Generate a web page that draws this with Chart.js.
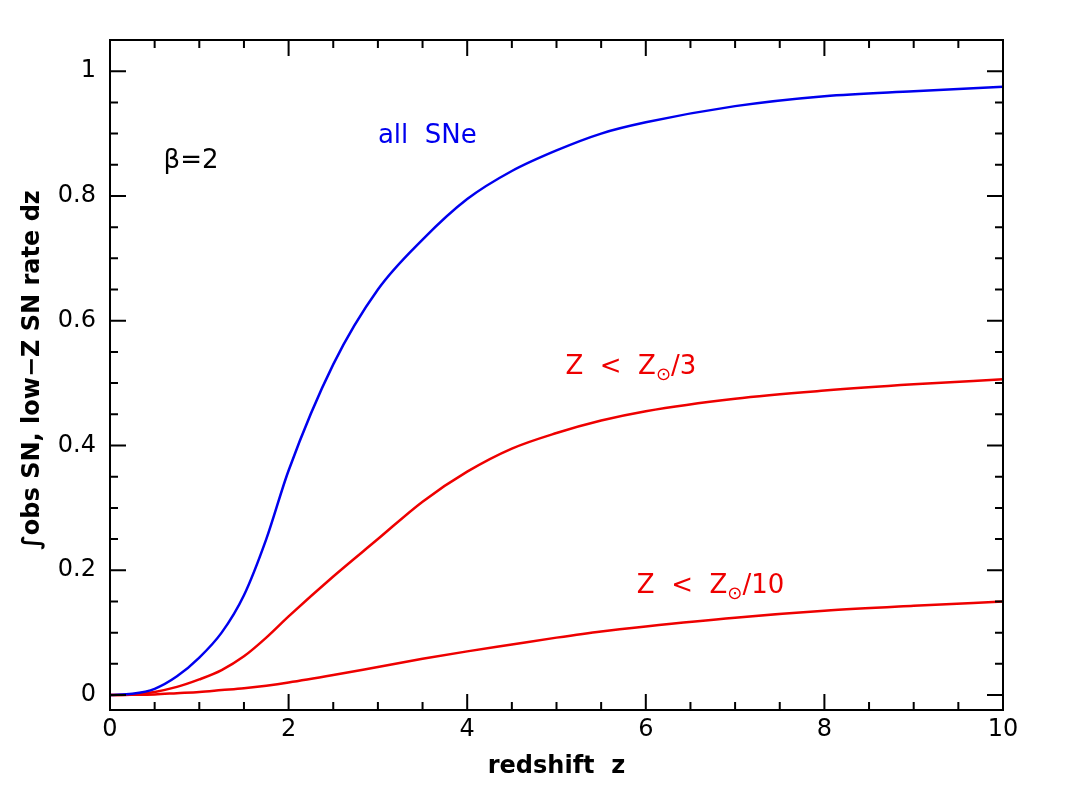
<!DOCTYPE html>
<html><head><meta charset="utf-8">
<script src="https://cdn.jsdelivr.net/npm/chart.js@4"></script>
<style>body{margin:0;background:#fff}#w{width:1067px;height:797px}</style>
</head><body><div id="w"><canvas id="c"></canvas></div>
<script>
const zGrid=[0,0.25,0.5,0.75,1,1.25,1.5,1.75,2,2.5,3,3.5,4,4.5,5,5.5,6,7,8,9,10];
const allSNe=[0,0.002,0.01,0.03,0.06,0.1,0.16,0.25,0.36,0.53,0.65,0.73,0.795,0.84,0.873,0.9,0.918,0.944,0.96,0.968,0.975];
const third=[0,0.001,0.005,0.013,0.025,0.04,0.062,0.092,0.126,0.19,0.25,0.31,0.358,0.395,0.42,0.44,0.455,0.475,0.488,0.498,0.506];
const tenth=[0,0.0003,0.001,0.003,0.005,0.008,0.011,0.015,0.02,0.032,0.045,0.058,0.07,0.081,0.092,0.102,0.11,0.124,0.135,0.143,0.15];
const xTicks=[0,2,4,6,8,10];
const yTicks=[0,0.2,0.4,0.6,0.8,1];
const F='"DejaVu Sans"';
const pts=(xs,ys)=>xs.map((x,i)=>({x,y:ys[i]}));
const deco={id:'deco',afterDraw(ch){
 const c=ch.ctx,X=ch.scales.x,Y=ch.scales.y,a=ch.chartArea;
 c.save();c.strokeStyle='#000';c.lineWidth=2;
 c.strokeRect(a.left,a.top,a.right-a.left,a.bottom-a.top);
 for(let v=0;v<=10.001;v+=0.5){const p=X.getPixelForValue(v),L=(Math.abs(v%2)<1e-6)?16:8;
  c.beginPath();c.moveTo(p,a.bottom);c.lineTo(p,a.bottom-L);c.moveTo(p,a.top);c.lineTo(p,a.top+L);c.stroke();}
 for(let v=0;v<=1.0001;v+=0.05){const p=Y.getPixelForValue(v),L=(Math.round(v*100)%20===0)?16:8;
  c.beginPath();c.moveTo(a.left,p);c.lineTo(a.left+L,p);c.moveTo(a.right,p);c.lineTo(a.right-L,p);c.stroke();}
 c.fillStyle='#000';c.font='24px '+F;c.textAlign='center';c.textBaseline='top';
 xTicks.forEach(v=>c.fillText(String(v),X.getPixelForValue(v),a.bottom+8));
 c.textAlign='right';c.textBaseline='middle';
 yTicks.forEach(v=>c.fillText(String(v),a.left-14,Y.getPixelForValue(v)));
 c.textAlign='center';c.textBaseline='middle';
 c.font='bold 24px '+F;
 c.fillText('redshift  z',(a.left+a.right)/2,767);
 c.save();c.translate(33,370);c.rotate(-Math.PI/2);c.fillText('∫obs SN, low−Z SN rate dz',0,0);c.restore();
 c.font='26px '+F;c.textAlign='left';
 c.fillText('β=2',X.getPixelForValue(0.6),Y.getPixelForValue(0.855));
 c.fillStyle='#0000ee';c.fillText('all  SNe',X.getPixelForValue(3),Y.getPixelForValue(0.895));
 c.fillStyle='#ee0000';
 const zlab=(x0,y0,rest)=>{let px=X.getPixelForValue(x0),py=Y.getPixelForValue(y0);
  c.font='26px '+F;c.fillText('Z  <  Z',px,py);px+=c.measureText('Z  <  Z').width;
  c.font='18px '+F;c.fillText('⊙',px,py+8);px+=c.measureText('⊙').width;
  c.font='26px '+F;c.fillText(rest,px,py);};
 zlab(5.1,0.525,'/3');zlab(5.9,0.175,'/10');
 c.restore();}};
new Chart(document.getElementById('c'),{type:'line',
 data:{datasets:[
  {data:pts(zGrid,allSNe),borderColor:'#0000ee'},
  {data:pts(zGrid,third),borderColor:'#ee0000'},
  {data:pts(zGrid,tenth),borderColor:'#ee0000'}]},
 options:{responsive:true,maintainAspectRatio:false,animation:false,
  layout:{padding:{left:110,right:64,top:40,bottom:87}},
  elements:{point:{radius:0},line:{borderWidth:2.5,cubicInterpolationMode:'monotone'}},
  plugins:{legend:{display:false},tooltip:{enabled:false}},
  scales:{x:{type:'linear',min:0,max:10,display:false},y:{min:-0.024,max:1.05,display:false}}},
 plugins:[deco]});
</script></body></html>
